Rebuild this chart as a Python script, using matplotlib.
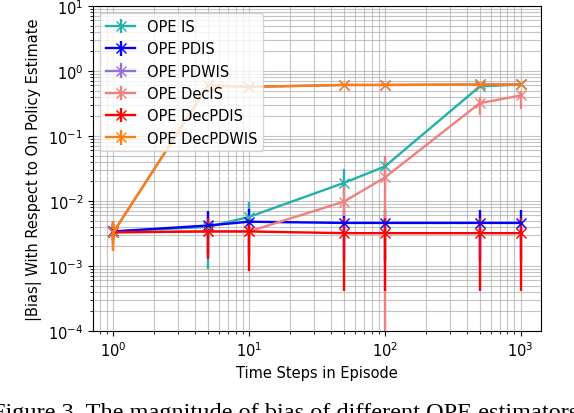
import matplotlib
matplotlib.use("Agg")
import matplotlib.pyplot as plt
import numpy as np

steps = [1, 5, 10, 50, 100, 500, 1000]

labels = ["OPE IS", "OPE PDIS", "OPE PDWIS", "OPE DecIS", "OPE DecPDIS", "OPE DecPDWIS"]
colors = ["#20B2AA", "#0000FF", "#9370DB", "#F08080", "#FF0000", "#FF7F0E"]

is_mean = [3.4e-3, 4.0e-3, 5.7e-3, 0.019, 0.034, 0.58, 0.62]
is_low  = [2.6e-3, 9.0e-4, 3.0e-3, 0.012, 0.026, 0.55, 0.59]
is_high = [4.3e-3, 6.0e-3, 9.7e-3, 0.031, 0.044, 0.61, 0.65]

pdis_mean = [3.4e-3, 4.2e-3, 4.8e-3, 4.6e-3, 4.6e-3, 4.6e-3, 4.6e-3]
pdis_low  = [2.5e-3, 1.5e-3, 1.5e-3, 1.2e-3, 1.2e-3, 1.2e-3, 1.2e-3]
pdis_high = [4.4e-3, 6.9e-3, 7.6e-3, 7.3e-3, 7.3e-3, 7.3e-3, 7.3e-3]

pdwis_mean = [3.3e-3, 0.60, 0.57, 0.61, 0.61, 0.62, 0.62]
pdwis_low  = [1.7e-3, 0.58, 0.55, 0.59, 0.59, 0.60, 0.60]
pdwis_high = [5.0e-3, 0.62, 0.59, 0.63, 0.63, 0.64, 0.64]

decis_mean = [3.3e-3, 3.4e-3, 3.4e-3, 9.8e-3, 0.023, 0.32, 0.42]
decis_low  = [2.4e-3, 1.6e-3, 1.2e-3, 5.9e-3, 1.0e-6, 0.21, 0.26]
decis_high = [4.4e-3, 5.0e-3, 5.6e-3, 0.017, 0.050, 0.40, 0.50]

decpdis_mean = [3.3e-3, 3.4e-3, 3.4e-3, 3.2e-3, 3.2e-3, 3.2e-3, 3.2e-3]
decpdis_low  = [2.2e-3, 1.3e-3, 8.5e-4, 4.1e-4, 4.1e-4, 4.1e-4, 4.1e-4]
decpdis_high = [4.8e-3, 5.5e-3, 5.5e-3, 5.5e-3, 5.5e-3, 5.5e-3, 5.5e-3]

decpdwis_mean = [3.3e-3, 0.60, 0.57, 0.61, 0.61, 0.62, 0.62]
decpdwis_low  = [1.7e-3, 0.58, 0.55, 0.59, 0.59, 0.60, 0.60]
decpdwis_high = [5.0e-3, 0.62, 0.59, 0.63, 0.63, 0.64, 0.64]

series = [
    (is_mean, is_low, is_high),
    (pdis_mean, pdis_low, pdis_high),
    (pdwis_mean, pdwis_low, pdwis_high),
    (decis_mean, decis_low, decis_high),
    (decpdis_mean, decpdis_low, decpdis_high),
    (decpdwis_mean, decpdwis_low, decpdwis_high),
]

fig = plt.figure(figsize=(5.74, 4.14), dpi=100)
ax = fig.add_axes([93/574, 1 - 332/414, 448/574, 325/414])

for (m, lo, hi), lab, col in zip(series, labels, colors):
    m = np.array(m); lo = np.array(lo); hi = np.array(hi)
    yerr = np.vstack([m - lo, hi - m])
    ax.errorbar(steps, m, yerr=yerr, label=lab, color=col, marker='x',
                markersize=7.5, linewidth=1.7, elinewidth=1.7, capsize=0)

ax.set_xscale('log')
ax.set_yscale('log')
ax.set_ylim(1e-4, 1e1)
ax.grid(True, which='both', color='#b0b0b0', linewidth=0.8, alpha=0.75)
ax.set_xlabel("Time Steps in Episode", fontsize=10.5)
ax.set_ylabel("|Bias| With Respect to On Policy Estimate", fontsize=10.5)
ax.tick_params(labelsize=10.5)
ax.legend(loc='upper left', fontsize=10.5)

fig.text(578/574, -5/414, "Figure 3. The magnitude of bias of different OPE estimators",
         ha='right', va='baseline', fontsize=17.5, family='Liberation Serif')

fig.savefig("out.png", dpi=100)
